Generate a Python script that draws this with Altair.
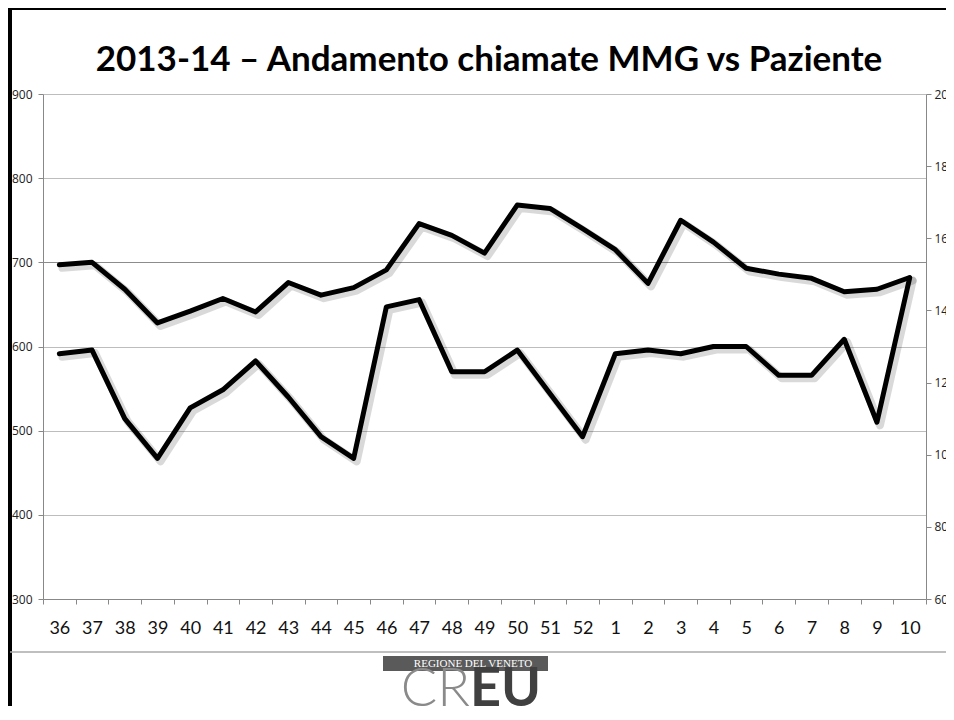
import altair as alt
import pandas as pd

# ---- data ----
weeks = ["36", "37", "38", "39", "40", "41", "42", "43", "44", "45", "46", "47",
         "48", "49", "50", "51", "52", "1", "2", "3", "4", "5", "6", "7", "8", "9", "10"]
paziente = [697, 700, 668, 628, 642, 657, 641, 676, 661, 670, 691, 746, 732, 711,
            768, 764, 740, 715, 675, 750, 724, 693, 686, 681, 665, 668, 682]
mmg = [128, 129, 110, 99, 113, 118, 126, 116, 105, 99, 141, 143, 123, 123,
       129, 117, 105, 128, 129, 128, 130, 130, 122, 122, 132, 109, 149]
left_ticks = [300, 400, 500, 600, 700, 800, 900]
right_ticks = [60, 80, 100, 120, 140, 160, 180, 200]
title_text = "2013-14 – Andamento chiamate MMG vs Paziente"

df = pd.DataFrame({"Settimana": weeks, "Paziente": paziente, "MMG": mmg})

W, H = 883, 505
PAD = {"left": 35, "top": 86, "right": 20, "bottom": 107}

xscale = alt.Scale(type="band", paddingInner=0, paddingOuter=0)
xaxis = alt.Axis(
    title=None, labelAngle=0, labelFont="Lato", labelFontSize=18, labelColor="#111",
    labelPadding=15, tickBand="extent", tickSize=5, tickColor="#888",
    domainColor="#888", grid=False,
)
left_axis = alt.Axis(
    orient="left", values=left_ticks, title=None, grid=True,
    gridColor={"condition": {"test": "datum.value === 700", "value": "#8c8c8c"},
               "value": "#bdbdbd"},
    labelFont="Open Sans", labelFontSize=12, labelColor="#222", labelPadding=6,
    tickSize=5, tickColor="#888", domainColor="#888",
)
right_axis = alt.Axis(
    orient="right", values=right_ticks, title=None, grid=False,
    labelFont="Open Sans", labelFontSize=12, labelColor="#222", labelPadding=3,
    tickSize=5, tickColor="#888", domainColor="#888",
)

yl_scale = alt.Scale(domain=[300, 900], nice=False, zero=False)
yr_scale = alt.Scale(domain=[60, 200], nice=False, zero=False)

X = alt.X("Settimana:N", sort=weeks, scale=xscale, axis=xaxis, bandPosition=0.5)
YL = alt.Y("Paziente:Q", scale=yl_scale, axis=left_axis)
YR = alt.Y("MMG:Q", scale=yr_scale, axis=right_axis)

line_style = dict(color="black", strokeWidth=5, strokeJoin="round", strokeCap="round")
shadow_style = dict(color="black", opacity=0.15, strokeWidth=8, strokeJoin="round",
                    strokeCap="round", xOffset=3, yOffset=3)

base = alt.Chart(df)

upper = alt.layer(
    base.mark_line(**shadow_style).encode(x=X, y=YL),
    base.mark_line(**line_style).encode(x=X, y=YL),
)
lower = alt.layer(
    base.mark_line(**shadow_style).encode(x=X, y=YR),
    base.mark_line(**line_style).encode(x=X, y=YR),
)

one = alt.Data(values=[{"k": 0}])
deco = alt.Chart(one)

title_mark = deco.mark_text(font="Lato", fontSize=35, fontWeight="bold", color="black",
                            align="center", baseline="alphabetic").encode(
    x=alt.value(446), y=alt.value(-23), text=alt.value(title_text))

# slide frame and separator line (page decoration)
top_frame = deco.mark_rule(color="black", strokeWidth=2).encode(
    x=alt.value(-35), x2=alt.value(911), y=alt.value(-85))
left_frame = deco.mark_rule(color="black", strokeWidth=4).encode(
    x=alt.value(-33), y=alt.value(-86), y2=alt.value(620))
sep = deco.mark_rule(color="#aaaaaa", strokeWidth=1.5).encode(
    x=alt.value(-33), x2=alt.value(911), y=alt.value(558))

# logo
logo_box = deco.mark_rect(color="#5a5a5a").encode(
    x=alt.value(340), x2=alt.value(505), y=alt.value(562), y2=alt.value(577))
logo_txt = deco.mark_text(font="Liberation Serif", fontSize=11, color="white",
                          align="center", baseline="middle").encode(
    x=alt.value(430), y=alt.value(570), text=alt.value("REGIONE DEL VENETO"))
logo_cr = deco.mark_text(font="Lato", fontSize=54, fontWeight=300, color="#8a8a8a",
                         align="right", baseline="alphabetic").encode(
    x=alt.value(427), y=alt.value(612), text=alt.value("CR"))
logo_eu = deco.mark_text(font="Lato", fontSize=54, fontWeight="bold", color="#404040",
                         align="left", baseline="alphabetic").encode(
    x=alt.value(427), y=alt.value(612), text=alt.value("EU"))

chart = alt.layer(
    upper, lower, title_mark, top_frame, left_frame, sep,
    logo_box, logo_txt, logo_cr, logo_eu
).resolve_scale(y="independent").properties(
    width=W, height=H,
    autosize=alt.AutoSizeParams(type="none"),
    padding=PAD,
).configure(background="white").configure_view(stroke=None)

chart.save("out.html", embed_options={"renderer": "svg", "actions": False})
